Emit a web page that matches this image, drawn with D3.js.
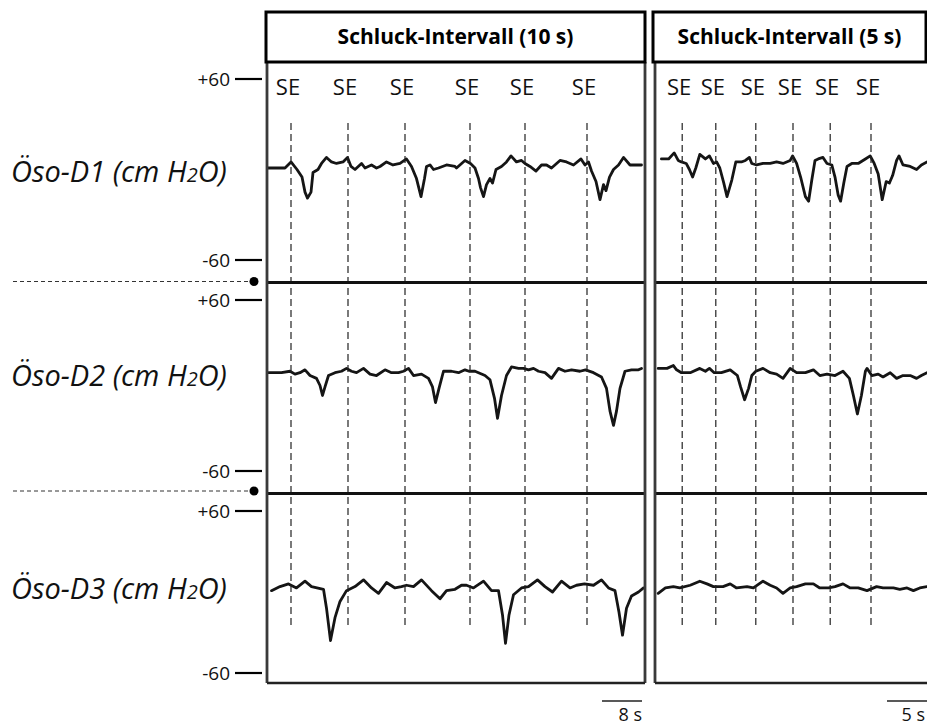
<!DOCTYPE html>
<html>
<head>
<meta charset="utf-8">
<script src="https://cdn.jsdelivr.net/npm/d3@7"></script>
<style>
  html, body { margin: 0; padding: 0; background: #fff; }
  svg { display: block; }
</style>
</head>
<body>
<script>
// ---------------- DATA ----------------
const channels = ["Öso-D1", "Öso-D2", "Öso-D3"];
const unitMain = " (cm H";
const unitSub = "2";
const unitEnd = "O)";
const panelTitles = ["Schluck-Intervall (10 s)", "Schluck-Intervall (5 s)"];
const leftTimeDomain = [0, 75.6];   // seconds
const rightTimeDomain = [0, 34];    // seconds
const pressureDomain = [-60, 60];   // cm H2O
const pressureTicks = [60, -60];
const pressureTickLabels = ["+60", "-60"];
const eventLabel = "SE";
const seTimesLeft = [4.8, 16.2, 27.6, 40.6, 51.6, 64.0];
const seTimesRight = [3.4, 7.6, 12.6, 17.25, 21.9, 27.0];
const scaleBarSeconds = [8, 5];
const scaleBarLabels = ["8 s", "5 s"];

// [time s, pressure cmH2O]
const d1Left = [[0.2,1],[3.6,1],[4.8,5],[6.0,0],[7.0,-5],[7.6,-15],[8.1,-19],[8.8,-15],[9.2,-2],[10.2,0],[10.9,4],[11.9,8],[12.9,5],[13.9,4],[15.2,5],[16.1,8],[16.8,2],[17.6,0],[18.9,4],[19.6,1],[20.9,3],[21.9,1],[22.6,2],[23.9,5],[25.2,3],[26.6,4],[27.9,7],[28.9,2],[29.9,-6],[30.8,-18],[31.5,-6],[31.9,2],[32.6,3],[33.3,0],[34.3,1],[35.9,3],[37.6,2],[37.9,1],[39.6,6],[40.7,4],[41.6,1],[42.3,-6],[42.7,-12],[43.3,-18],[43.9,-10],[44.6,-6],[45.1,-9],[45.8,0],[46.9,2],[47.9,5],[48.8,9],[49.9,5],[50.9,6],[51.6,4],[52.6,2],[53.8,-1],[54.9,3],[55.9,3],[56.9,1],[58.6,6],[59.9,5],[61.3,3],[62.8,7],[63.6,3],[64.3,5],[64.9,-1],[65.8,-8],[66.6,-20],[67.3,-10],[67.8,-14],[68.5,-5],[69.3,0],[70.3,3],[71.3,8],[72.6,3],[74.6,3],[74.9,3]];
const d1Right = [[0.8,7],[1.7,7],[2.4,11],[2.9,6],[3.3,5],[3.9,4],[4.3,0],[4.7,-5],[5.1,1],[5.6,10],[6.3,7],[6.8,9],[7.3,4],[7.7,5],[8.1,1],[8.6,-9],[9.0,-18],[9.6,-7],[10.1,5],[10.8,5],[11.3,6],[11.8,8],[12.1,4],[12.7,3],[13.5,4],[14.4,4],[15.2,5],[16.0,4],[16.9,6],[17.2,9],[17.7,4],[18.2,-5],[18.8,-18],[19.2,-21],[19.6,-7],[20.0,6],[20.4,7],[21.0,8],[21.5,4],[22.1,3],[22.5,-5],[22.9,-17],[23.2,-21],[23.6,-9],[24.0,2],[24.6,4],[25.4,4],[26.3,7],[26.9,9],[27.4,4],[27.9,-3],[28.4,-20],[28.9,-8],[29.3,-9],[29.7,-4],[30.2,6],[30.5,9],[31.0,3],[31.9,2],[32.7,0],[33.3,3],[34.0,5]];
const d2Left = [[0.3,9],[2.9,9],[4.6,10],[5.6,8],[6.6,9],[7.6,11],[8.6,7],[9.9,5],[10.6,0],[11.1,-7],[11.6,-1],[12.3,7],[13.6,9],[14.9,10],[15.9,12],[16.9,10],[17.9,9],[19.3,12],[20.6,8],[21.9,7],[23.6,11],[24.9,9],[26.3,9],[27.3,10],[28.3,12],[29.3,7],[30.9,8],[32.3,5],[33.1,-1],[33.7,-12],[34.4,-2],[35.3,10],[36.9,10],[38.3,9],[39.6,11],[40.4,10],[41.6,10],[43.6,7],[44.6,4],[45.5,-9],[46.1,-23],[46.9,-7],[47.9,7],[48.9,13],[50.3,12],[51.3,12],[52.3,11],[53.3,12],[54.3,10],[55.6,9],[56.9,5],[58.3,12],[59.6,10],[60.9,11],[62.6,10],[63.7,11],[65.3,9],[66.9,6],[67.9,-2],[68.6,-18],[69.3,-28],[69.9,-18],[70.6,-2],[71.6,10],[72.9,11],[74.3,11],[74.9,12]];
const d2Right = [[0.4,12],[1.5,12],[2.3,14],[2.7,11],[3.3,9],[4.4,9],[5.6,12],[6.3,10],[6.8,12],[7.4,9],[8.3,9],[9.4,11],[10.3,7],[10.7,-1],[11.2,-10],[11.7,-2],[12.1,7],[12.6,10],[13.5,12],[14.4,9],[15.2,8],[16.0,5],[16.9,12],[17.7,9],[18.8,9],[19.8,11],[20.6,7],[21.5,8],[22.5,7],[23.5,10],[24.3,5],[24.8,-7],[25.3,-20],[25.8,-7],[26.3,10],[26.5,12],[27.1,7],[27.9,8],[28.5,6],[29.4,9],[30.2,5],[31.0,7],[31.9,7],[32.7,5],[33.3,7],[34.0,9]];
const d3Left = [[0.9,1],[2.6,4],[4.3,6],[5.9,3],[7.6,8],[8.9,4],[11.3,2],[11.9,-12],[12.7,-36],[13.6,-19],[14.6,-7],[15.9,1],[17.6,4],[19.3,9],[20.9,3],[22.3,-1],[23.9,7],[25.6,3],[26.9,4],[27.9,5],[29.3,4],[30.9,9],[32.9,1],[34.6,-5],[35.9,1],[37.6,2],[38.9,5],[39.9,5],[41.3,3],[43.3,8],[44.9,1],[46.3,1],[47.1,-17],[47.7,-38],[48.4,-17],[49.3,-2],[50.9,3],[52.3,4],[54.1,9],[55.6,4],[57.1,0],[58.9,8],[60.6,3],[61.9,5],[63.5,6],[65.3,5],[66.9,9],[68.3,3],[69.6,1],[70.4,-15],[71.1,-32],[71.9,-12],[72.9,-3],[74.3,0],[75.3,3]];
const d3Right = [[0.4,-1],[1.3,3],[2.3,4],[3.1,3],[4.4,5],[5.6,8],[6.5,6],[7.3,4],[8.5,4],[9.4,6],[10.2,3],[11.5,4],[12.3,3],[13.5,8],[14.4,5],[15.2,3],[16.0,-1],[16.9,3],[17.7,4],[18.8,6],[19.8,6],[20.6,3],[21.7,3],[22.5,4],[23.5,6],[24.4,3],[25.4,3],[26.5,1],[27.7,4],[28.5,3],[29.8,3],[30.6,2],[31.5,3],[32.3,1],[33.1,3],[34.0,4]];

// ---------------- LAYOUT ----------------
const W = 927, H = 727;
const panels = [
  { x0: 267, x1: 645, domain: leftTimeDomain, se: seTimesLeft, title: panelTitles[0], hx0: 266, hx1: 645, bar: scaleBarSeconds[0], barLabel: scaleBarLabels[0], barEnd: 75, labelEnd: 642 },
  { x0: 655, x1: 927, domain: rightTimeDomain, se: seTimesRight, title: panelTitles[1], hx0: 653, hx1: 926, bar: scaleBarSeconds[1], barLabel: scaleBarLabels[1], barEnd: 34, labelEnd: 925 }
];
const rows = [
  { top: 79, bottom: 260, labelY: 182, traces: [d1Left, d1Right] },
  { top: 300, bottom: 471, labelY: 386, traces: [d2Left, d2Right] },
  { top: 511, bottom: 673, labelY: 599, traces: [d3Left, d3Right] }
];
const panelTop = 62, panelBottom = 683;
const sepY = [282.5, 493.5];
const sepDotY = [281.5, 491];
const seLineTop = 123, seLineBottom = 628;

const svg = d3.select("body").append("svg").attr("width", W).attr("height", H);

panels.forEach((p, pi) => {
  p.x = d3.scaleLinear().domain(p.domain).range([p.x0, p.x1]);
  svg.append("clipPath").attr("id", "clip" + pi)
    .append("rect").attr("x", p.x0).attr("y", panelTop).attr("width", p.x1 - p.x0).attr("height", panelBottom - panelTop);
});

// traces
const line = d3.line().curve(d3.curveLinear);
rows.forEach((r, ri) => {
  const y = d3.scaleLinear().domain(pressureDomain).range([r.bottom, r.top]);
  r.y = y;
  panels.forEach((p, pi) => {
    svg.append("path")
      .attr("clip-path", `url(#clip${pi})`)
      .attr("d", line.x(d => p.x(d[0])).y(d => y(d[1]))(r.traces[pi]))
      .attr("fill", "none")
      .attr("stroke", "#151515")
      .attr("stroke-width", 2.8)
      .attr("stroke-linejoin", "round")
      .attr("stroke-linecap", "round");
  });
  // pressure ticks
  pressureTicks.forEach((t, ti) => {
    svg.append("line").attr("x1", 235).attr("x2", 262).attr("y1", y(t)).attr("y2", y(t))
      .attr("stroke", "#000").attr("stroke-width", 2.2);
    svg.append("text").attr("x", 230).attr("y", y(t) + 7)
      .attr("text-anchor", "end")
      .attr("font-family", "'Open Sans', sans-serif").attr("font-size", 19)
      .attr("fill", "#111").text(pressureTickLabels[ti]);
  });
  // channel label
  const lbl = svg.append("text").attr("x", 11).attr("y", r.labelY)
    .attr("font-family", "'Open Sans', sans-serif").attr("font-style", "italic")
    .attr("font-size", 29).attr("fill", "#111");
  lbl.append("tspan").text(channels[ri] + unitMain);
  lbl.append("tspan").attr("font-size", 20).text(unitSub);
  lbl.append("tspan").text(unitEnd);
});

// SE dashed lines and labels
panels.forEach((p) => {
  p.se.forEach(t => {
    svg.append("line").attr("x1", p.x(t)).attr("x2", p.x(t))
      .attr("y1", seLineTop).attr("y2", seLineBottom)
      .attr("stroke", "#222").attr("stroke-width", 1.2)
      .attr("stroke-dasharray", "7,4");
    svg.append("text").attr("x", p.x(t) - 3).attr("y", 95)
      .attr("text-anchor", "middle")
      .attr("font-family", "'Open Sans', sans-serif").attr("font-size", 22)
      .attr("fill", "#111").text(eventLabel);
  });
});

// separator thick lines
sepY.forEach(yy => {
  panels.forEach(p => {
    svg.append("line").attr("x1", p.x0).attr("x2", p.x1).attr("y1", yy).attr("y2", yy)
      .attr("stroke", "#111").attr("stroke-width", 3.2);
  });
});
// left dotted connectors with dots
sepDotY.forEach(yy => {
  svg.append("line").attr("x1", 13).attr("x2", 250).attr("y1", yy).attr("y2", yy)
    .attr("stroke", "#333").attr("stroke-width", 1).attr("stroke-dasharray", "4,3");
  svg.append("circle").attr("cx", 254).attr("cy", yy).attr("r", 4.5).attr("fill", "#000");
});

// panel borders
panels.forEach((p, pi) => {
  svg.append("line").attr("x1", p.x0).attr("x2", p.x0).attr("y1", panelTop).attr("y2", panelBottom)
    .attr("stroke", "#3a3a3a").attr("stroke-width", 2.8);
  if (pi === 0) {
    svg.append("line").attr("x1", p.x1).attr("x2", p.x1).attr("y1", panelTop).attr("y2", panelBottom)
      .attr("stroke", "#3a3a3a").attr("stroke-width", 2.8);
  }
  svg.append("line").attr("x1", p.x0).attr("x2", p.x1).attr("y1", panelBottom).attr("y2", panelBottom)
    .attr("stroke", "#222").attr("stroke-width", 2.6);
  // header
  svg.append("rect").attr("x", p.hx0).attr("y", 12).attr("width", p.hx1 - p.hx0).attr("height", panelTop - 12)
    .attr("fill", "#fff").attr("stroke", "#000").attr("stroke-width", 3);
  svg.append("text").attr("x", (p.hx0 + p.hx1) / 2).attr("y", 44)
    .attr("text-anchor", "middle")
    .attr("font-family", "'Open Sans', sans-serif").attr("font-weight", "bold").attr("font-size", 21)
    .attr("fill", "#000").text(p.title);
  // scale bar
  svg.append("line").attr("x1", p.x(p.barEnd - p.bar)).attr("x2", p.x(p.barEnd))
    .attr("y1", 701).attr("y2", 701).attr("stroke", "#222").attr("stroke-width", 1.5);
  svg.append("text").attr("x", p.labelEnd).attr("y", 721)
    .attr("text-anchor", "end")
    .attr("font-family", "'Open Sans', sans-serif").attr("font-size", 18)
    .attr("fill", "#111").text(p.barLabel);
});
</script>
</body>
</html>
